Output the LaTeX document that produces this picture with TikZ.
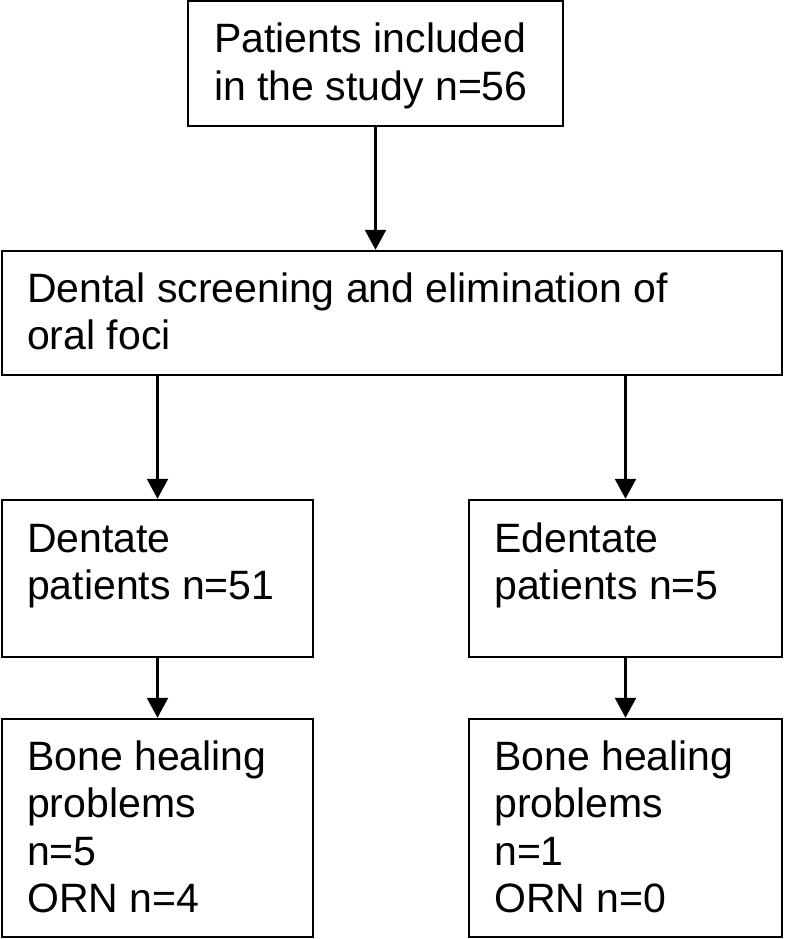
\documentclass[tikz,border=0pt]{standalone}
\usepackage{fontspec}
\setmainfont{Liberation Sans}
\usetikzlibrary{arrows.meta}
\begin{document}
\begin{tikzpicture}[x=1pt,y=-1pt,
  box/.style={draw=black,line width=2.5pt,rectangle,inner sep=0pt},
  txt/.style={anchor=base west,inner sep=0pt,font=\fontsize{41}{47.6}\selectfont},
  arr/.style={line width=2.5pt,-{Triangle[width=21pt,length=20pt]}}]
\useasboundingbox (0,0) rectangle (786,939);
\fill[white] (0,0) rectangle (786,939);
% boxes
\node[box,minimum width=375pt,minimum height=125pt] (b1) at (375.5,63.5) {};
\node[box,minimum width=780pt,minimum height=124pt] (b2) at (392,313) {};
\node[box,minimum width=311pt,minimum height=157pt] (b3) at (157.5,578.5) {};
\node[box,minimum width=313pt,minimum height=157pt] (b4) at (625.5,578.5) {};
\node[box,minimum width=311pt,minimum height=218pt] (b5) at (157.5,828) {};
\node[box,minimum width=313pt,minimum height=218pt] (b6) at (625.5,828) {};
% texts
\node[txt] (t1) at (214,53) {\begin{tabular}[t]{@{}l@{}}Patients included\\in the study n=56\end{tabular}};
\node[txt] (t2) at (27,302) {\begin{tabular}[t]{@{}l@{}}Dental screening and elimination of\\oral foci\end{tabular}};
\node[txt] (t3) at (27,552) {\begin{tabular}[t]{@{}l@{}}Dentate\\patients n=51\end{tabular}};
\node[txt] (t4) at (494,552) {\begin{tabular}[t]{@{}l@{}}Edentate\\patients n=5\end{tabular}};
\node[txt] (t5) at (27,770) {\begin{tabular}[t]{@{}l@{}}Bone healing\\problems\\n=5\\ORN n=4\end{tabular}};
\node[txt] (t6) at (494,770) {\begin{tabular}[t]{@{}l@{}}Bone healing\\problems\\n=1\\ORN n=0\end{tabular}};
% arrows
\draw[arr] (b1.south) -- (b1.south |- b2.north);
\draw[arr] (b3.north |- b2.south) -- (b3.north);
\draw[arr] (b4.north |- b2.south) -- (b4.north);
\draw[arr] (b3.south) -- (b5.north);
\draw[arr] (b4.south) -- (b6.north);
\end{tikzpicture}
\end{document}
